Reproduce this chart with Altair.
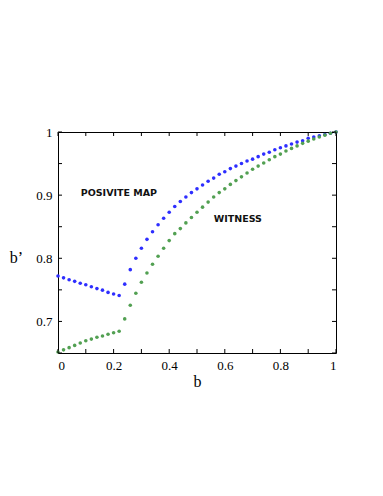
import altair as alt
import pandas as pd

# ---- data ----
b_values = [0.00, 0.02, 0.04, 0.06, 0.08, 0.10, 0.12, 0.14, 0.16, 0.18,
            0.20, 0.22, 0.24, 0.26, 0.28, 0.30, 0.32, 0.34, 0.36, 0.38,
            0.40, 0.42, 0.44, 0.46, 0.48, 0.50, 0.52, 0.54, 0.56, 0.58,
            0.60, 0.62, 0.64, 0.66, 0.68, 0.70, 0.72, 0.74, 0.76, 0.78,
            0.80, 0.82, 0.84, 0.86, 0.88, 0.90, 0.92, 0.94, 0.96, 0.98,
            1.00]

positive_map = [0.772, 0.769, 0.766, 0.7635, 0.7605, 0.758, 0.755, 0.752, 0.7495, 0.746,
                0.7435, 0.741, 0.759, 0.782, 0.800, 0.816, 0.830, 0.842, 0.853, 0.8635,
                0.873, 0.882, 0.890, 0.897, 0.904, 0.910, 0.916, 0.922, 0.927, 0.933,
                0.937, 0.942, 0.946, 0.950, 0.954, 0.957, 0.961, 0.965, 0.968, 0.972,
                0.975, 0.978, 0.981, 0.984, 0.986, 0.990, 0.992, 0.994, 0.996, 0.998,
                1.000]

witness = [0.6515, 0.655, 0.6585, 0.662, 0.6658, 0.6695, 0.672, 0.675, 0.677, 0.6796,
           0.682, 0.6844, 0.704, 0.7256, 0.7446, 0.762, 0.7768, 0.7905, 0.8032, 0.816,
           0.828, 0.839, 0.847, 0.856, 0.8645, 0.873, 0.881, 0.889, 0.897, 0.904,
           0.910, 0.917, 0.923, 0.929, 0.935, 0.941, 0.946, 0.951, 0.956, 0.961,
           0.965, 0.970, 0.974, 0.978, 0.982, 0.9855, 0.989, 0.992, 0.995, 0.998,
           1.000]

series_names = ["positive map", "witness"]
series_colors = ["#2e2eff", "#52a052"]

label_texts = ["POSIVITE MAP", "WITNESS"]
label_b = [0.219, 0.647]
label_bp = [0.9036, 0.8624]

x_label_ticks = [0, 0.2, 0.4, 0.6, 0.8, 1]
x_minor_ticks = [0, 0.1, 0.2, 0.3, 0.4, 0.5, 0.6, 0.7, 0.8, 0.9, 1]
y_label_ticks = [0.7, 0.8, 0.9, 1]
y_minor_ticks = [0.65, 0.7, 0.75, 0.8, 0.85, 0.9, 0.95, 1.0]

# ---- tables ----
rows = []
for name, vals in zip(series_names, [positive_map, witness]):
    for bv, v in zip(b_values, vals):
        rows.append({"b": bv, "bp": v, "series": name})
df = pd.DataFrame(rows)
ann = pd.DataFrame({"b": label_b, "bp": label_bp, "text": label_texts})
xt = pd.DataFrame({"b": x_minor_ticks})
yt = pd.DataFrame({"bp": y_minor_ticks})

W, H = 278, 221
TL = 4
SERIF = "Liberation Serif"

xs = alt.Scale(domain=[0, 1], nice=False, zero=False)
ys = alt.Scale(domain=[0.65, 1], nice=False, zero=False)

x_axis = alt.Axis(
    orient="bottom", values=x_label_ticks, format="~g", ticks=False, domain=False,
    grid=False, labelFont=SERIF, labelFontSize=13, labelColor="black", labelPadding=6,
    title="b", titleFont=SERIF, titleFontSize=16, titleFontWeight="normal",
    titleColor="black", titleY=28, titleBaseline="middle")
y_axis = alt.Axis(
    orient="left", values=y_label_ticks, format="~g", ticks=False, domain=False,
    grid=False, labelFont=SERIF, labelFontSize=13, labelColor="black", labelPadding=6,
    title="b\u2019", titleFont=SERIF, titleFontSize=16, titleFontWeight="normal",
    titleColor="black", titleAngle=0, titleX=-42, titleY=125,
    titleAlign="center", titleBaseline="middle")

X = lambda: alt.X("b:Q", scale=xs, axis=x_axis)
Y = lambda: alt.Y("bp:Q", scale=ys, axis=y_axis)

points = alt.Chart(df).mark_circle(size=13, opacity=1).encode(
    x=X(), y=Y(),
    color=alt.Color("series:N", scale=alt.Scale(domain=series_names, range=series_colors),
                    legend=None),
)

rule_style = dict(color="black", strokeWidth=1)

x_ticks_bottom = alt.Chart(xt).mark_rule(**rule_style).encode(
    x=X(), y=alt.value(H), y2=alt.value(H - TL))
x_ticks_top = alt.Chart(xt).mark_rule(**rule_style).encode(
    x=X(), y=alt.value(0), y2=alt.value(TL))
y_ticks_left = alt.Chart(yt).mark_rule(**rule_style).encode(
    y=Y(), x=alt.value(0), x2=alt.value(TL))
y_ticks_right = alt.Chart(yt).mark_rule(**rule_style).encode(
    y=Y(), x=alt.value(W), x2=alt.value(W - TL))

labels = alt.Chart(ann).mark_text(
    font="DejaVu Sans", fontSize=9.5, fontWeight="bold", color="#111111",
    align="center", baseline="middle"
).encode(x=X(), y=Y(), text="text:N")

chart = alt.layer(
    points, x_ticks_bottom, x_ticks_top, y_ticks_left, y_ticks_right, labels
).properties(
    width=W, height=H,
    autosize=alt.AutoSizeParams(type="none"),
    padding={"left": 50, "top": 124, "right": 30, "bottom": 100},
    background="white",
).configure_view(stroke="black", strokeWidth=1
).configure_axis(labelFont=SERIF, titleFont=SERIF)

chart.save("out.html", embed_options={"renderer": "svg", "actions": False})
